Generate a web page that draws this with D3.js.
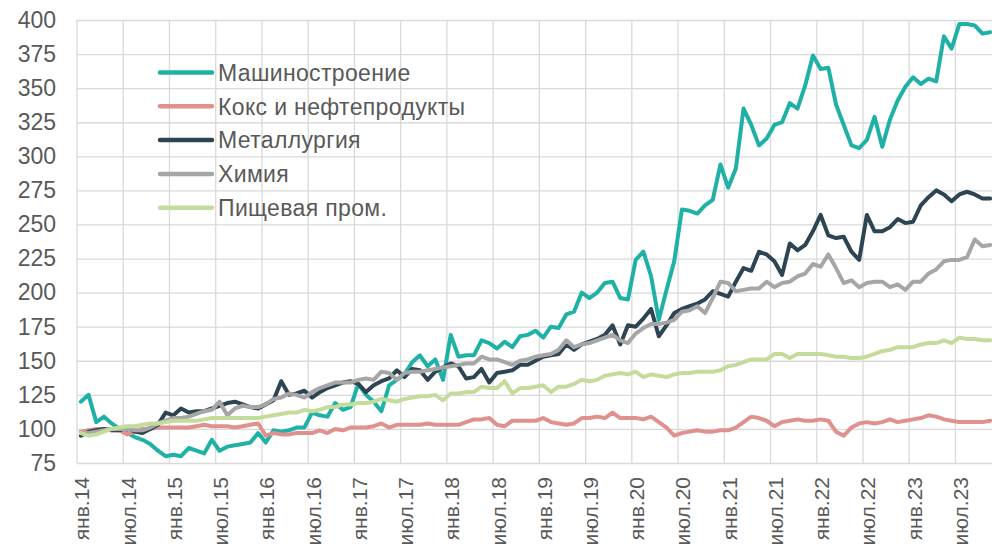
<!DOCTYPE html>
<html>
<head>
<meta charset="utf-8">
<script src="https://cdn.jsdelivr.net/npm/d3@7"></script>
<style>
    body { margin: 0; background: #ffffff; }
    svg text { font-family: "Liberation Sans", Arial, sans-serif; fill: #595959; }
</style>
</head>
<body>
<svg id="chart" width="992" height="551"></svg>
<script>
// monthly index values, jan.2014 .. nov.2023
var seriesNames = ["Машиностроение", "Кокс и нефтепродукты", "Металлургия", "Химия", "Пищевая пром."];
var seriesColors = ["#1fb1a6", "#e0918d", "#2d4452", "#a6a6a6", "#c4dc9b"];

var mashinostroenie = [120,125,105,109,104,100,97,94,92,89,84,80,81,80,86,84,82,92,84,87,
    88,89,90,97,90,99,98,99,101,101,112,110,109,119,114,116,133,125,120,113,
    132,136,140,149,154,146,151,136,169,153,154,154,165,163,159,164,160,168,169,172,
    167,175,174,184,186,200,196,200,207,208,196,195,224,230,212,180,202,223,261,260,
    258,264,268,294,277,291,335,323,308,313,323,325,339,335,352,374,364,365,338,323,
    308,306,312,329,307,327,341,351,358,353,357,355,388,379,397,397,396,390,391];

var koks = [98,99,100,100,99,99,96,98,100,100,101,101,101,101,101,102,103,102,102,102,
    101,102,103,104,95,97,96,96,97,97,97,99,97,100,99,101,101,101,102,104,
    101,103,103,103,103,104,103,103,103,103,105,107,107,108,103,102,106,106,106,106,
    108,105,104,103,104,108,108,109,108,112,108,108,108,107,109,105,101,95,97,98,
    99,98,98,99,99,101,105,109,108,106,102,105,106,107,106,106,107,106,98,95,
    101,104,105,104,105,107,105,106,107,108,110,109,107,106,105,105,105,105,106];

var metallurgiya = [95,98,99,100,99,99,101,98,97,100,103,112,110,115,112,113,113,115,117,119,
    120,118,116,115,118,121,135,125,126,128,123,127,130,132,134,135,133,127,132,135,
    137,143,138,144,143,136,142,145,148,146,137,138,144,134,141,142,143,147,147,150,
    153,154,155,162,158,162,164,166,169,176,162,176,175,181,188,168,176,185,188,190,
    192,195,201,199,197,208,218,216,230,228,223,213,236,231,235,245,257,242,240,241,
    230,224,257,245,245,248,254,251,252,264,270,275,272,267,272,274,272,269,269];

var khimiya = [97,97,98,99,100,100,100,99,99,101,104,106,108,108,109,111,113,114,120,110,
    115,117,116,116,118,122,123,126,125,123,127,130,132,134,134,134,136,137,136,142,
    141,136,141,142,142,143,144,145,146,147,148,148,153,151,151,149,147,150,151,153,
    154,155,158,165,160,162,163,165,167,169,165,163,170,174,177,177,178,180,186,187,
    190,185,196,208,207,201,202,203,203,208,204,207,208,212,214,221,219,228,218,207,
    209,204,207,208,208,204,206,202,208,208,214,217,223,224,224,226,239,234,235];

var pishchevaya = [97,95,96,98,100,101,102,102,103,104,104,105,106,106,106,106,107,108,108,108,
    108,108,108,108,109,110,111,112,112,114,113,114,116,116,118,118,119,119,120,122,
    121,120,122,123,124,124,125,121,126,126,127,127,131,130,130,135,126,130,130,131,
    132,127,131,131,133,136,135,136,139,140,141,140,142,138,140,139,138,140,141,141,
    142,142,142,143,146,147,149,151,151,151,155,155,152,155,155,155,155,154,153,153,
    152,152,153,155,157,158,160,160,160,162,163,163,165,163,167,166,166,165,165];

var yTicks = [75,100,125,150,175,200,225,250,275,300,325,350,375,400];
var xTickLabels = ["янв.14","июл.14","янв.15","июл.15","янв.16","июл.16","янв.17","июл.17",
    "янв.18","июл.18","янв.19","июл.19","янв.20","июл.20","янв.21","июл.21",
    "янв.22","июл.22","янв.23","июл.23"];

var allSeries = [mashinostroenie, koks, metallurgiya, khimiya, pishchevaya];

var plot = { left: 77, top: 20, right: 994, bottom: 463 };

var months = d3.range(mashinostroenie.length);

var x = d3.scaleBand()
    .domain(months)
    .range([plot.left, plot.right]);

var y = d3.scaleLinear()
    .domain([75, 400])
    .range([plot.bottom, plot.top]);

var svg = d3.select('#chart');

// horizontal grid + y labels
svg.append('g')
    .attr('transform', 'translate(' + plot.left + ',0)')
    .call(d3.axisLeft(y).tickValues(yTicks).tickSize(-(plot.right - plot.left)).tickPadding(21))
    .call(function(g) {
        g.select('.domain').remove();
        g.selectAll('.tick line').attr('stroke', '#d9d9d9').attr('stroke-width', 1.3);
        g.selectAll('.tick text').attr('font-size', 23).attr('fill', '#595959')
            .style('font-family', '"Liberation Sans", Arial, sans-serif');
    });

// vertical grid every six months, on category boundaries
var tickMonths = months.filter(function(m) { return m % 6 === 0; });

svg.append('g')
    .selectAll('line')
    .data(tickMonths)
    .enter()
    .append('line')
    .attr('x1', function(d) { return x(d); })
    .attr('x2', function(d) { return x(d); })
    .attr('y1', plot.top)
    .attr('y2', plot.bottom)
    .attr('stroke', '#d9d9d9')
    .attr('stroke-width', 1.3);

// x labels, rotated (kept short enough to fit the bottom edge)
svg.append('g')
    .attr('transform', 'translate(0,' + plot.bottom + ')')
    .call(d3.axisBottom(x).tickValues(tickMonths).tickSize(0)
        .tickFormat(function(d, i) { return xTickLabels[i]; }))
    .call(function(g) {
        g.select('.domain').remove();
        g.selectAll('.tick text')
            .attr('font-size', 21)
            .attr('fill', '#595959')
            .style('font-family', '"Liberation Sans", Arial, sans-serif')
            .attr('text-anchor', 'end')
            .attr('y', 0)
            .attr('dy', '0.36em')
            .attr('transform', 'translate(1,14) rotate(-90)');
    });

var line = d3.line()
    .x(function(d, i) { return x(i) + x.bandwidth() / 2; })
    .y(function(d) { return y(d); });

svg.append('g')
    .selectAll('path')
    .data(allSeries)
    .enter()
    .append('path')
    .attr('d', line)
    .attr('fill', 'none')
    .attr('stroke', function(d, i) { return seriesColors[i]; })
    .attr('stroke-width', 4)
    .attr('stroke-linejoin', 'round')
    .attr('stroke-linecap', 'round');

// legend
var legend = svg.append('g')
    .selectAll('g')
    .data(seriesNames)
    .enter()
    .append('g')
    .attr('transform', function(d, i) { return 'translate(160,' + (72.5 + i * 33.8) + ')'; });

legend.append('line')
    .attr('x1', 0)
    .attr('x2', 52)
    .attr('stroke', function(d, i) { return seriesColors[i]; })
    .attr('stroke-width', 4.5)
    .attr('stroke-linecap', 'round');

legend.append('text')
    .attr('x', 58)
    .attr('dy', '0.36em')
    .attr('font-size', 23)
    .attr('letter-spacing', 0.35)
    .text(function(d) { return d; });
</script>
</body>
</html>
